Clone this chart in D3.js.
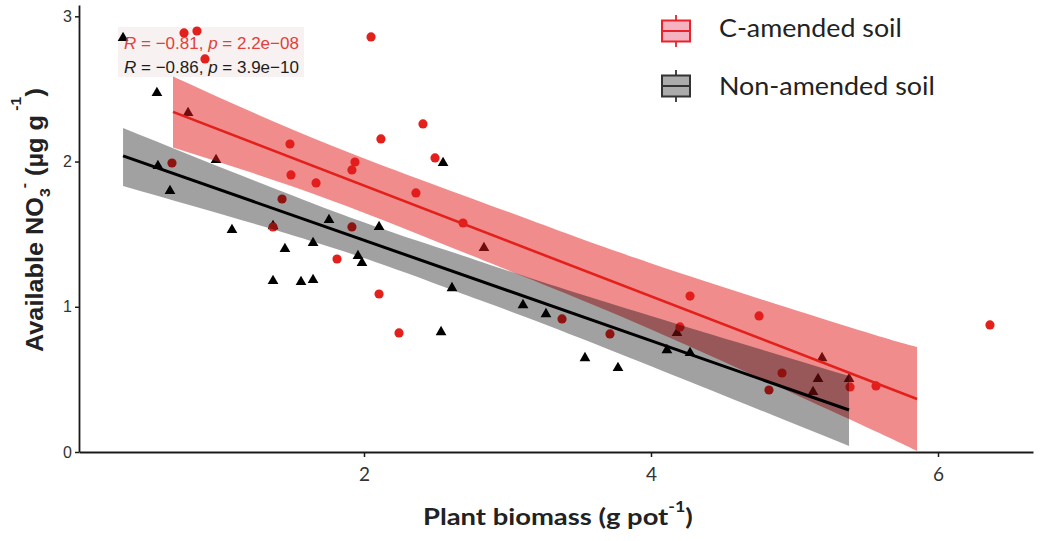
<!DOCTYPE html>
<html>
<head>
<meta charset="utf-8">
<script src="https://cdn.jsdelivr.net/npm/d3@7"></script>
<style>
  body { margin: 0; background: #fff; }
  svg { display: block; }
</style>
</head>
<body>
<svg id="chart" width="1040" height="541"></svg>
<script>
// C-amended soil: plant biomass (g pot-1) and available nitrate (µg g-1)
const cBiomass = [0.746, 0.836, 0.892, 0.662, 1.484, 1.491, 1.666, 1.429, 1.366, 1.916,
                  1.937, 1.916, 1.812, 2.049, 2.118, 2.411, 2.495, 2.362, 2.690, 2.105,
                  2.244, 3.380, 3.714, 4.272, 4.202, 4.753, 4.913, 4.822, 5.387, 5.568, 6.362];
const cNitrate = [2.886, 2.899, 2.707, 1.990, 2.121, 1.908, 1.853, 1.742, 1.550, 1.942,
                  1.997, 1.550, 1.329, 2.858, 2.156, 2.259, 2.025, 1.784, 1.577, 1.088,
                  0.820, 0.916, 0.813, 1.074, 0.861, 0.937, 0.544, 0.427, 0.448, 0.455, 0.875];

// Non-amended soil
const nBiomass = [0.321, 0.557, 0.774, 0.969, 0.564, 0.648, 1.080, 1.366, 1.449, 1.645,
                  1.756, 1.366, 1.561, 1.645, 2.105, 1.958, 1.986, 2.836, 2.613, 2.537,
                  3.108, 3.268, 2.551, 3.540, 3.770, 4.181, 4.111, 4.272, 5.192, 5.164, 5.380, 5.129];
const nNitrate = [2.851, 2.472, 2.335, 2.011, 1.970, 1.798, 1.529, 1.556, 1.398, 1.439,
                  1.598, 1.178, 1.171, 1.185, 1.550, 1.350, 1.302, 1.405, 1.129, 0.826,
                  1.012, 0.950, 1.990, 0.647, 0.579, 0.820, 0.702, 0.682, 0.647, 0.503, 0.503, 0.413];

// Linear fits with 95% confidence bands
const cFitX = [0.669, 5.854];
const cFitY = [2.342, 0.365];
const cBandX  = [0.669, 1.763, 2.948, 3.993, 5.380, 5.854];
const cBandHi = [2.586, 2.114, 1.674, 1.302, 0.861, 0.723];
const cBandLo = [2.097, 1.736, 1.274, 0.847, 0.227, 0.007];

const nFitX = [0.321, 5.380];
const nFitY = [2.039, 0.289];
const nBandX  = [0.321, 1.763, 2.634, 3.505, 5.380];
const nBandHi = [2.231, 1.667, 1.370, 1.088, 0.523];
const nBandLo = [1.832, 1.412, 1.109, 0.785, 0.041];

const xTicks = [2, 4, 6];
const yTicks = [0, 1, 2, 3];

const statLines = [
  { r: "−0.81", p: "2.2e−08", color: "#e2403c" },
  { r: "−0.86", p: "3.9e−10", color: "#1c1c1c" }
];
const legendLabels = ["C-amended soil", "Non-amended soil"];

const RED = "#e3201c";

const svg = d3.select("#chart");

const x = d3.scaleLinear().domain([0.014, 6.662]).range([79, 1033]);
const y = d3.scaleLinear().domain([0, 3.078]).range([452, 5]);

// stretch a text element horizontally so it spans a given width
function fitWidth(sel, x0, y0, width, rotate) {
  const w = sel.node().getComputedTextLength();
  const s = width / w;
  sel.attr("transform", rotate
    ? `translate(${x0},${y0}) rotate(-90) scale(${s},1)`
    : `translate(${x0},${y0}) scale(${s},1)`);
}

// faint panel behind the correlation statistics
svg.append("rect")
  .attr("x", 118).attr("y", 27).attr("width", 186).attr("height", 50)
  .attr("fill", "#f7f1f1");

// points
const nPts = d3.zip(nBiomass, nNitrate);
const cPts = d3.zip(cBiomass, cNitrate);

svg.append("g").selectAll("path").data(nPts).join("path")
  .attr("transform", d => `translate(${x(d[0])},${y(d[1])})`)
  .attr("d", d3.symbol(d3.symbolTriangle, 50))
  .attr("fill", "#000");

svg.append("g").selectAll("circle").data(cPts).join("circle")
  .attr("cx", d => x(d[0])).attr("cy", d => y(d[1]))
  .attr("r", 4.6).attr("fill", RED);

// confidence bands
const band = (bx, lo, hi) => d3.area()
  .x((d, i) => x(bx[i]))
  .y0((d, i) => y(lo[i]))
  .y1((d, i) => y(hi[i]))
  .curve(d3.curveNatural)(bx);

svg.append("path").attr("d", band(cBandX, cBandLo, cBandHi))
  .attr("fill", "#e41a1c").attr("fill-opacity", 0.5);
svg.append("path").attr("d", band(nBandX, nBandLo, nBandHi))
  .attr("fill", "#000").attr("fill-opacity", 0.37);

// fitted lines
const line = d3.line().x(d => x(d[0])).y(d => y(d[1]));
svg.append("path").attr("d", line(d3.zip(cFitX, cFitY)))
  .attr("fill", "none").attr("stroke", RED).attr("stroke-width", 2.6);
svg.append("path").attr("d", line(d3.zip(nFitX, nFitY)))
  .attr("fill", "none").attr("stroke", "#000").attr("stroke-width", 3);

// axes
const xAxis = svg.append("g").attr("transform", "translate(0,452)")
  .call(d3.axisBottom(x).tickValues(xTicks).tickFormat(d3.format("d"))
    .tickSize(5).tickSizeOuter(0).tickPadding(11));
xAxis.select(".domain").attr("stroke", "#1a1a1a").attr("stroke-width", 1.8);
xAxis.selectAll(".tick line").attr("stroke", "#1a1a1a").attr("stroke-width", 1.5);
xAxis.selectAll(".tick text")
  .attr("font-family", "Lato, 'Open Sans', sans-serif").attr("font-size", 19)
  .attr("fill", "#333");

const yAxis = svg.append("g").attr("transform", "translate(79,0)")
  .call(d3.axisLeft(y).tickValues(yTicks).tickFormat(d3.format("d"))
    .tickSize(4).tickSizeOuter(0).tickPadding(3));
yAxis.select(".domain").attr("stroke", "#1a1a1a").attr("stroke-width", 1.8);
yAxis.selectAll(".tick line").attr("stroke", "#1a1a1a").attr("stroke-width", 1.5);
yAxis.selectAll(".tick text")
  .attr("font-family", "'Liberation Sans', Arial, sans-serif").attr("font-size", 16)
  .attr("fill", "#333");

// correlation statistics
statLines.forEach((s, i) => {
  const t = svg.append("text")
    .attr("x", 124).attr("y", 49 + i * 24)
    .attr("font-family", "'Liberation Sans', Arial, sans-serif")
    .attr("font-size", 17).attr("fill", s.color);
  t.append("tspan").attr("font-style", "italic").text("R");
  t.append("tspan").text(` = ${s.r}, `);
  t.append("tspan").attr("font-style", "italic").text("p");
  t.append("tspan").text(` = ${s.p}`);
});

// axis titles
const xt = svg.append("text")
  .attr("font-family", "Lato, 'Open Sans', sans-serif")
  .attr("font-weight", "bold").attr("font-size", 23).attr("fill", "#222");
xt.append("tspan").text("Plant biomass (g pot");
xt.append("tspan").attr("font-size", 15).attr("dy", -13).text("-1");
xt.append("tspan").attr("dy", 13).text(")");
fitWidth(xt, 423, 525, 270, false);

const yt = svg.append("text")
  .attr("font-family", "'Liberation Sans', Arial, sans-serif")
  .attr("font-weight", "bold").attr("font-size", 24).attr("fill", "#222");
yt.append("tspan").text("Available NO");
yt.append("tspan").attr("font-size", 15).attr("dy", 7).text("3");
yt.append("tspan").attr("font-size", 15).attr("dy", -21).text("-");
yt.append("tspan").attr("dy", 14).text(" (µg g");
yt.append("tspan").attr("font-size", 15).attr("dy", -22).text(" -1");
yt.append("tspan").attr("dy", 22).text(")");
fitWidth(yt, 43, 352, 264, true);

// legend
const legend = svg.append("g");
const keyStyles = [
  { fill: "#f5b3c1", stroke: "#e8232c" },
  { fill: "#ababab", stroke: "#333" }
];
const legendWidths = [183, 216];
legendLabels.forEach((lab, i) => {
  const cy = 31 + i * 55;
  const k = keyStyles[i];
  const g = legend.append("g");
  g.append("line").attr("x1", 676).attr("x2", 676).attr("y1", cy - 16).attr("y2", cy + 16)
    .attr("stroke", k.stroke).attr("stroke-width", 1.8);
  g.append("rect").attr("x", 662).attr("y", cy - 10.5).attr("width", 28).attr("height", 21)
    .attr("fill", k.fill).attr("stroke", k.stroke).attr("stroke-width", 2);
  g.append("line").attr("x1", 662).attr("x2", 690).attr("y1", cy).attr("y2", cy)
    .attr("stroke", k.stroke).attr("stroke-width", 2);
  const t = g.append("text")
    .attr("font-family", "Lato, 'Open Sans', sans-serif")
    .attr("font-size", 25).attr("fill", "#222").text(lab);
  fitWidth(t, 719, cy + 6 + i * 3, legendWidths[i], false);
});
</script>
</body>
</html>
